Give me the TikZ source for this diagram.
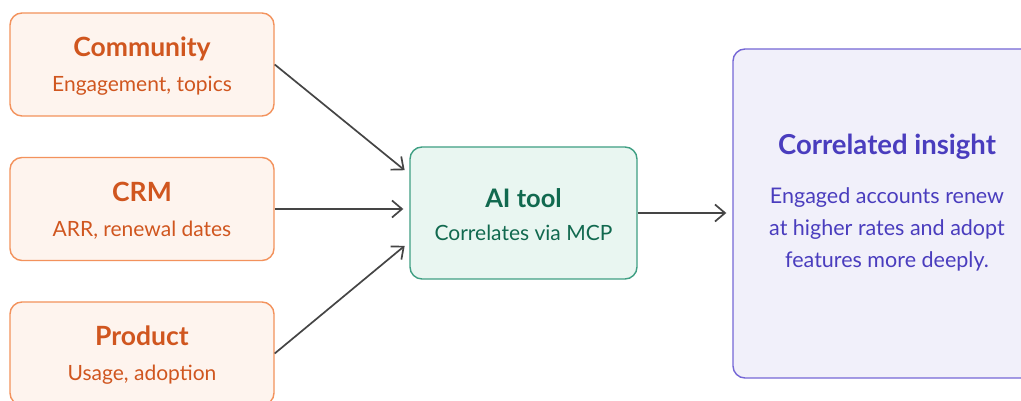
\documentclass[tikz,border=0pt]{standalone}
\usepackage{fontspec}
\setsansfont{Lato}
\usetikzlibrary{arrows.meta}
\definecolor{srcfill}{HTML}{FEF4EE}
\definecolor{srcline}{HTML}{F3925C}
\definecolor{srctext}{HTML}{D0561F}
\definecolor{aifill}{HTML}{E9F6F1}
\definecolor{ailine}{HTML}{3F9F83}
\definecolor{aitext}{HTML}{11694F}
\definecolor{insfill}{HTML}{F1F0FA}
\definecolor{insline}{HTML}{7567D6}
\definecolor{instext}{HTML}{4A3DBE}
\definecolor{wire}{HTML}{454545}
\tikzset{
  srcbox/.style={draw=srcline, fill=srcfill, line width=1.4pt, rounded corners=12pt,
    minimum width=264pt, minimum height=103pt, inner sep=0pt},
  feed/.style={draw=wire, line width=1.7pt, shorten >=6pt,
    -{Straight Barb[length=10pt, width=17pt, line width=1.7pt]}},
  ttl/.style={anchor=base, font=\sffamily\bfseries\fontsize{26.5}{30}\selectfont},
  sub/.style={anchor=base, font=\sffamily\fontsize{21}{24}\selectfont}
}
\begin{document}
\begin{tikzpicture}[x=1pt, y=1pt]
  \useasboundingbox (0,0) rectangle (1021,401);
  \clip (0,0) rectangle (1021,401);
  \fill[white] (0,0) rectangle (1021,401);
  % three sources on the left
  \node[srcbox] (comm) at (142,336.5) {};
  \node[srcbox] (crm) at (142,192) {};
  \node[srcbox] (prod) at (142,47.5) {};
  \node[ttl, text=srctext] (commT) at ([yshift=7.5]comm.center) {Community};
  \node[sub, text=srctext] (commS) at ([yshift=-27.5]comm.center) {Engagement, topics};
  \node[ttl, text=srctext] (crmT) at ([yshift=7.5]crm.center) {CRM};
  \node[sub, text=srctext] (crmS) at ([yshift=-27.5]crm.center) {ARR, renewal dates};
  \node[ttl, text=srctext] (prodT) at ([yshift=7.5]prod.center) {Product};
  \node[sub, text=srctext] (prodS) at ([yshift=-27.5]prod.center) {Usage, adoption};
  % AI tool in the middle
  \node[draw=ailine, fill=aifill, line width=1.4pt, rounded corners=12pt,
    minimum width=227pt, minimum height=132pt, inner sep=0pt] (ai) at (523.5,188) {};
  \node[ttl, text=aitext, font=\sffamily\bfseries\fontsize{25.5}{30}\selectfont] (aiT)
    at ([yshift=5]ai.center) {AI tool};
  \node[sub, text=aitext] (aiS) at ([yshift=-28]ai.center) {Correlates via MCP};
  % result on the right (runs past the edge)
  \node[draw=insline, fill=insfill, line width=1.4pt, rounded corners=12pt,
    minimum width=308pt, minimum height=329pt, inner sep=0pt] (ins) at (887,187.5) {};
  \node[ttl, text=instext, font=\sffamily\bfseries\fontsize{27.5}{30}\selectfont] (insT)
    at ([yshift=58.5]ins.center) {Correlated insight};
  \node[sub, text=instext, font=\sffamily\fontsize{21.5}{24}\selectfont] (insA)
    at ([yshift=9.5]ins.center) {Engaged accounts renew};
  \node[sub, text=instext, font=\sffamily\fontsize{21.5}{24}\selectfont] (insB)
    at ([yshift=-22.5]ins.center) {at higher rates and adopt};
  \node[sub, text=instext, font=\sffamily\fontsize{21.5}{24}\selectfont] (insC)
    at ([yshift=-54.5]ins.center) {features more deeply.};
  % connectors
  \draw[feed] (comm.east) -- ([yshift=39]ai.west);
  \draw[feed] (crm.east) -- (crm.east -| ai.west);
  \draw[feed] (prod.east) -- ([yshift=-29]ai.west);
  \draw[feed] (ai.east) -- (ai.east -| ins.west);
\end{tikzpicture}
\end{document}
